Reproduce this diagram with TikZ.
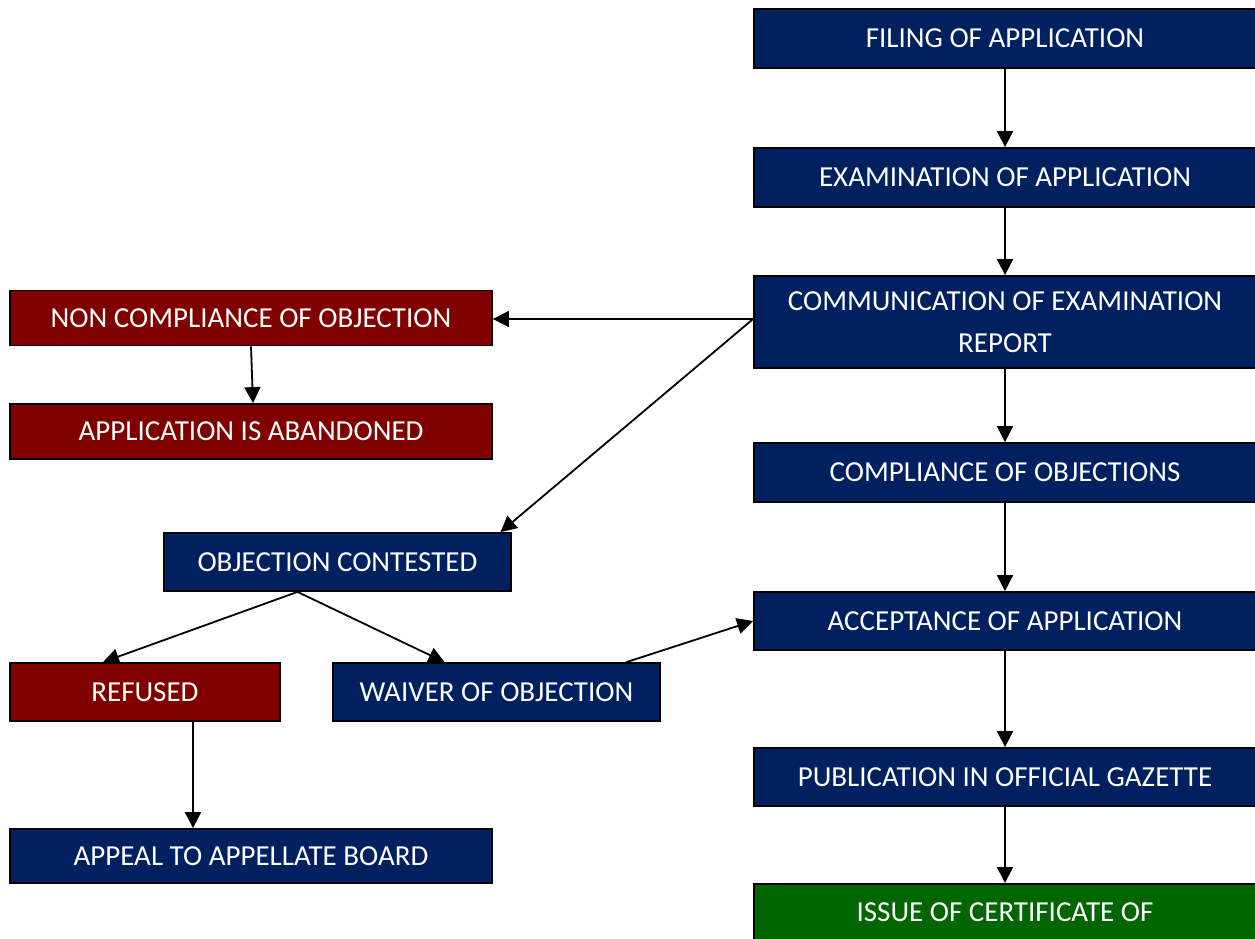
\documentclass[tikz,border=0pt]{standalone}
\usepackage{fontspec}
\setmainfont{Carlito}
\usetikzlibrary{arrows.meta}
\definecolor{navy}{HTML}{002060}
\definecolor{maroon}{HTML}{800000}
\definecolor{dgreen}{HTML}{006600}
\tikzset{
  box/.style={draw=black, line width=1.8pt, text=white, inner sep=0pt, align=center,
    font=\fontsize{29}{42}\selectfont},
  bluebox/.style={box, fill=navy},
  redbox/.style={box, fill=maroon},
  greenbox/.style={box, fill=dgreen},
  conn/.style={draw=black, line width=1.8pt, -{Triangle[length=16pt,width=16pt]}},
}
\begin{document}
\begin{tikzpicture}[x=1pt,y=-1pt]
\useasboundingbox (0,0) rectangle (1255,939);
\clip (0,0) rectangle (1255,939);
% right column
\node[bluebox, minimum width=502pt, minimum height=59pt] (fil) at (1005,38.5) {FILING OF APPLICATION};
\node[bluebox, minimum width=502pt, minimum height=59pt] (exa) at (1005,177.5) {EXAMINATION OF APPLICATION};
\node[bluebox, minimum width=502pt, minimum height=92pt] (com) at (1005,322) {COMMUNICATION OF EXAMINATION\\REPORT};
\node[bluebox, minimum width=502pt, minimum height=59pt] (cmp) at (1005,472.5) {COMPLIANCE OF OBJECTIONS};
\node[bluebox, minimum width=502pt, minimum height=58pt] (acc) at (1005,621) {ACCEPTANCE OF APPLICATION};
\node[bluebox, minimum width=502pt, minimum height=58pt] (pub) at (1005,777) {PUBLICATION IN OFFICIAL GAZETTE};
\node[greenbox, minimum width=502pt, minimum height=110pt, anchor=north] (iss) at (1005,883) {};
\node[text=white, font=\fontsize{29}{42}\selectfont] (isst) at (1005,912) {ISSUE OF CERTIFICATE OF};
% left side
\node[redbox, minimum width=482pt, minimum height=55pt] (nc) at (251,318) {NON COMPLIANCE OF OBJECTION};
\node[redbox, minimum width=482pt, minimum height=55pt] (ab) at (251,431.5) {APPLICATION IS ABANDONED};
\node[bluebox, minimum width=347pt, minimum height=58pt] (oc) at (337.5,562) {OBJECTION CONTESTED};
\node[redbox, minimum width=270pt, minimum height=58pt] (ref) at (145,692) {REFUSED};
\node[bluebox, minimum width=327pt, minimum height=58pt] (wai) at (496.5,692) {WAIVER OF OBJECTION};
\node[bluebox, minimum width=482pt, minimum height=54pt] (app) at (251,856) {APPEAL TO APPELLATE BOARD};
% connectors
\draw[conn] (fil.south) -- (exa.north);
\draw[conn] (exa.south) -- (com.north);
\draw[conn] (com.south) -- (cmp.north);
\draw[conn] (cmp.south) -- (acc.north);
\draw[conn] (acc.south) -- (pub.north);
\draw[conn] (pub.south) -- (iss.north);
\coordinate (cl) at ([yshift=3pt]com.west);
\draw[conn] (cl) -- (nc.east |- cl);
\draw[conn] (cl) -- ([xshift=163pt]oc.north);
\draw[conn] (nc.south) -- ([xshift=2pt]ab.north);
\coordinate (ocb) at ([xshift=-40pt]oc.south);
\draw[conn] (ocb) -- ([xshift=-42pt]ref.north);
\draw[conn] (ocb) -- ([xshift=-52pt]wai.north);
\draw[conn] ([xshift=130pt]wai.north) -- (acc.west);
\draw[conn] ([xshift=48pt]ref.south) -- ([xshift=-58pt]app.north);
\end{tikzpicture}
\end{document}
